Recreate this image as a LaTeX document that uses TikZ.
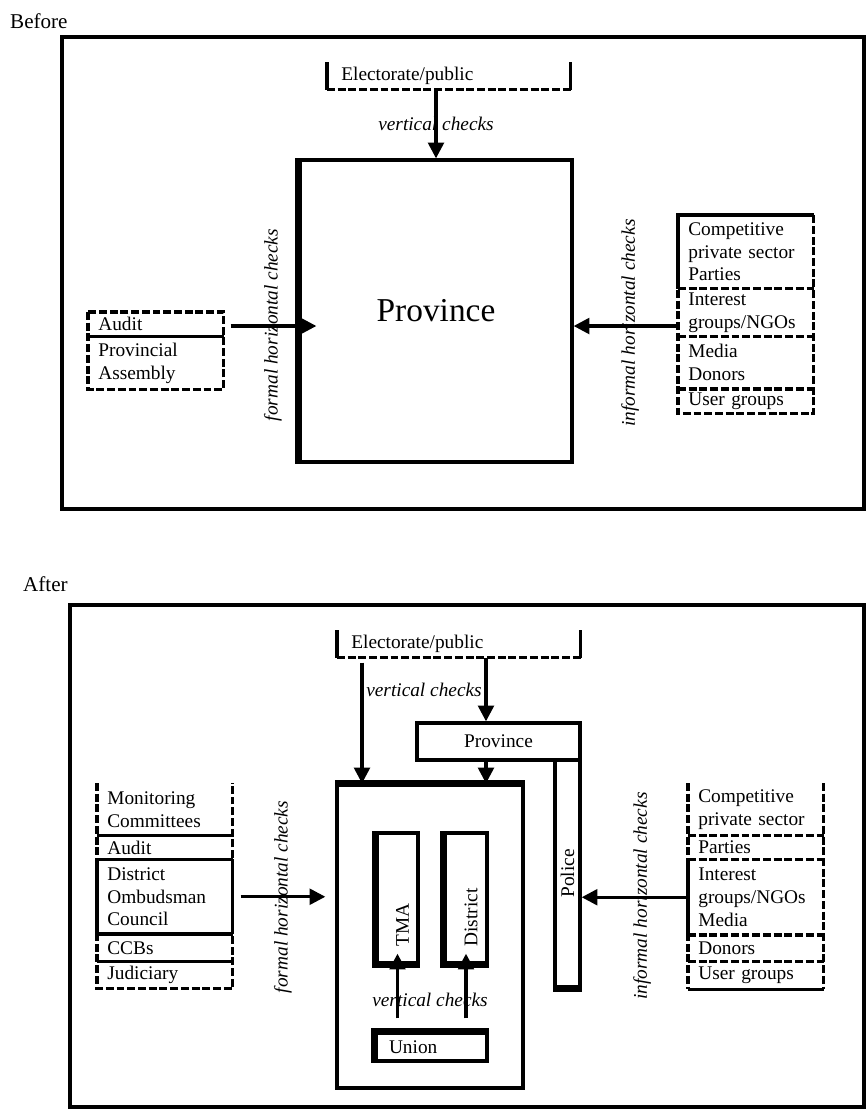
\documentclass[tikz,border=0pt]{standalone}
\usepackage{fontspec}
\setmainfont{Liberation Serif}
\usetikzlibrary{arrows.meta,calc}
\tikzset{
  box/.style={draw, line width=1.9pt, inner sep=0pt},
  lrow/.style={anchor=north west, minimum width=2.7cm, text width=2.3cm, inner xsep=0.2cm, inner ysep=0pt, align=left, font=\fontsize{11}{13}\selectfont},
  elecbox/.style={anchor=north west, minimum width=4.86cm, minimum height=0.54cm, text width=4.3cm, inner xsep=0.28cm, inner ysep=0pt, align=left, font=\fontsize{11}{13}\selectfont},
  dsh/.style={line width=1.9pt, dash pattern=on 4.5pt off 1.6pt},
  sld/.style={line width=1.9pt},
  thk/.style={line width=3.8pt},
  arr/.style={line width=1.8pt, -{Triangle[length=9pt,width=9pt]}},
  chk/.style={font=\fontsize{11}{13}\selectfont\itshape, inner sep=1pt},
  txt/.style={font=\fontsize{11}{13}\selectfont},
}

\begin{document}
\begin{tikzpicture}[x=0.02cm, y=-0.02cm]
\path[use as bounding box, fill=white] (0,0) rectangle (867,1110);

% before
\node[txt, anchor=west, font=\fontsize{12}{14}\selectfont] (before) at (4,21) {Before};
\draw[sld] (62,37) rectangle (864,509);

\node[elecbox] (elec1) at (327,62) {Electorate/public};
\draw[sld] (elec1.north west) -- (elec1.south west);
\draw[dsh] (elec1.south west) -- (elec1.south east);
\draw[sld] (elec1.south east) -- (elec1.north east);

\node[box, minimum width=5.44cm, minimum height=6.04cm, font=\fontsize{19}{22}\selectfont] (prov1) at (436,311) {Province};
\draw[thk] (prov1.north west) -- (prov1.south west);
\draw[arr] (elec1.south -| prov1.north) -- node[chk] (vc1) {vertical checks} (prov1.north);

\node[chk, rotate=90] (fh1) at (273,325) {formal horizontal checks};
\node[chk, rotate=90] (ih1) at (630,323) {informal horizontal checks};

\node[lrow, minimum height=0.48cm] (au1) at (88,312) {Audit};
\node[lrow, minimum height=1.04cm] (pa1) at (au1.south west) {Provincial\\Assembly};
\draw[dsh] (au1.north west) rectangle (pa1.south east);
\draw[sld] (au1.south west) -- (au1.south east);

\node[lrow, minimum height=1.46cm] (cpp1) at (678,215) {Competitive\\private sector\\Parties};
\node[lrow, minimum height=0.94cm] (ig1) at (cpp1.south west) {Interest\\groups/NGOs};
\node[lrow, minimum height=1.04cm] (md1) at (ig1.south west) {Media\\Donors};
\node[lrow, minimum height=0.48cm] (ug1) at (md1.south west) {User groups};
\draw[dsh] (cpp1.north west) rectangle (ug1.south east);
\draw[dsh] (ig1.north west) -- (ig1.north east) (md1.north west) -- (md1.north east) (ug1.north west) -- (ug1.north east);
\draw[sld] (cpp1.south west) -- (cpp1.north west) -- (cpp1.north east);

\coordinate (h1) at (0,326);
\draw[arr, shorten <=0.14cm, shorten >=-0.36cm] (au1.east |- h1) -- (prov1.west |- h1);
\draw[arr] (ig1.west |- h1) -- (prov1.east |- h1);

% after
\node[txt, anchor=west, font=\fontsize{12}{14}\selectfont] (after) at (17,584) {After};
\draw[sld] (70,605) rectangle (864,1107);

\node[elecbox] (elec2) at (337,630) {Electorate/public};
\draw[sld] (elec2.north west) -- (elec2.south west);
\draw[dsh] (elec2.south west) -- (elec2.south east);
\draw[sld] (elec2.south east) -- (elec2.north east);

\node[box, txt, minimum width=3.26cm, minimum height=0.74cm] (prov2) at (498.5,741.5) {Province};
\node[box, minimum width=0.5cm, minimum height=4.54cm] (pol) at (567.5,873.5) {};
\node[txt, rotate=90] (polt) at (pol.center) {Police};
\draw[thk] (pol.south west) -- (pol.south east);

\node[box, minimum width=3.72cm, minimum height=6.06cm] (cen) at (430,936.5) {};
\draw[thk] (cen.north west) -- (cen.north east);
\node[box, minimum width=0.82cm, minimum height=2.6cm] (tma) at (397.5,898) {};
\node[box, minimum width=0.84cm, minimum height=2.6cm] (dis) at (466,898) {};
\draw[thk] (tma.north west) -- (tma.south west) -- (tma.south east);
\draw[thk] (dis.north west) -- (dis.south west) -- (dis.south east);
\node[txt, rotate=90, anchor=west] (tmat) at ([xshift=0.1cm, yshift=0.24cm]tma.south) {TMA};
\node[txt, rotate=90, anchor=west] (dist) at ([xshift=0.1cm, yshift=0.24cm]dis.south) {District};
\node[box, txt, minimum width=2.22cm, minimum height=0.56cm, text width=1.7cm, inner xsep=0.26cm, align=left] (uni) at (431.5,1047) {Union};
\draw[thk] (uni.south west) -- (uni.north west) -- (uni.north east);

\draw[arr, shorten <=0.26cm, shorten >=-0.22cm] (uni.north -| tma) -- (tma.south);
\draw[arr, shorten <=0.26cm, shorten >=-0.22cm] (uni.north -| dis) -- (dis.south);
\node[chk] (vc3) at (430,1000) {vertical checks};

\coordinate (ca) at (362,0);
\coordinate (cb) at (486,0);
\draw[arr, shorten <=0.1cm] (elec2.south -| ca) -- (cen.north -| ca);
\draw[arr] (elec2.south -| cb) -- (prov2.north -| cb);
\draw[arr] (prov2.south -| cb) -- (cen.north -| cb);
\node[chk] (vc2) at (424,690) {vertical checks};

\node[chk, rotate=90] (fh2) at (283,897) {formal horizontal checks};
\node[chk, rotate=90] (ih2) at (642,896) {informal horizontal checks};

\node[lrow, minimum height=1.04cm] (mc2) at (97,783) {Monitoring\\Committees};
\node[lrow, minimum height=0.46cm] (au2) at (mc2.south west) {Audit};
\node[lrow, minimum height=1.48cm] (doc2) at (au2.south west) {District\\Ombudsman\\Council};
\node[lrow, minimum height=0.54cm] (ccb2) at (doc2.south west) {CCBs};
\node[lrow, minimum height=0.52cm] (jud2) at (ccb2.south west) {Judiciary};
\draw[dsh] (mc2.north west) -- (jud2.south west) -- (jud2.south east) -- (mc2.north east);
\draw[sld] (mc2.south west) -- (mc2.south east) (au2.south west) -- (au2.south east) (doc2.south west) -- (doc2.south east) (ccb2.south west) -- (ccb2.south east);
\draw[sld] (doc2.north west) -- (doc2.south west) (doc2.north east) -- (doc2.south east);

\node[lrow, minimum height=1.04cm] (cp2) at (688,783) {Competitive\\private sector};
\node[lrow, minimum height=0.46cm] (par2) at (cp2.south west) {Parties};
\node[lrow, minimum height=1.5cm] (igm2) at (par2.south west) {Interest\\groups/NGOs\\Media};
\node[lrow, minimum height=0.52cm] (don2) at (igm2.south west) {Donors};
\node[lrow, minimum height=0.54cm] (ug2) at (don2.south west) {User groups};
\draw[dsh] (cp2.north west) -- (ug2.south west) (cp2.north east) -- (ug2.south east);
\draw[dsh] (cp2.south west) -- (cp2.south east) (par2.south west) -- (par2.south east) (igm2.south west) -- (igm2.south east) (don2.south west) -- (don2.south east);
\draw[sld] (ug2.south west) -- (ug2.south east);
\draw[sld] (igm2.north west) -- (igm2.south west);

\draw[arr, shorten <=0.16cm, shorten >=0.2cm] (doc2.east) -- (doc2.east -| cen.west);
\draw[arr] (igm2.west) -- (igm2.west -| pol.east);
\end{tikzpicture}
\end{document}
